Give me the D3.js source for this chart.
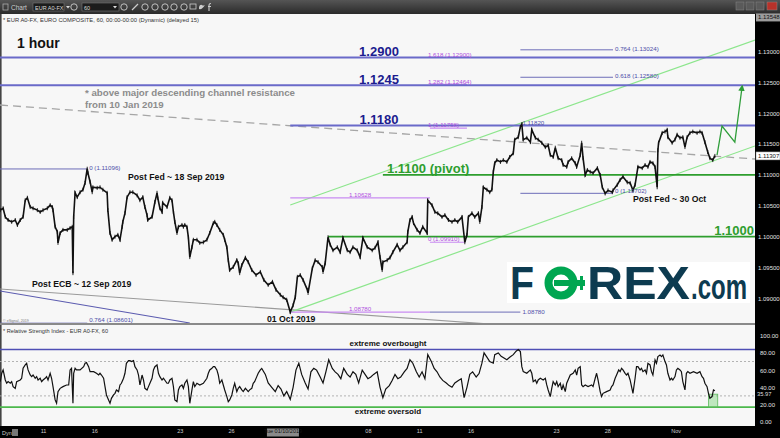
<!DOCTYPE html>
<html>
<head>
<meta charset="utf-8">
<script src="https://cdn.jsdelivr.net/npm/d3@7"></script>
<style>
  body { margin: 0; background: #fff; }
  svg { display: block; font-family: "Liberation Sans", Arial, sans-serif; }
</style>
</head>
<body>
<svg id="chart" width="780" height="438"></svg>
<script>
// ---------- data ----------
// time unit: trading hours from Mon 9 Sep 2019 00:00 (weekends skipped)
// EUR/USD hourly price track [hour, price]
const priceTrack = [
[-12,1.1043],[-8,1.1046],[-5,1.1032],[-1,1.1027],[4,1.1024],[9,1.1027],[12,1.1019],[16,1.1027],[20,1.1032],[23,1.1059],[26,1.1063],[30,1.1048],[34,1.1046],[40,1.1043],[44,1.1040],[48,1.1043],[54,1.1046],[58,1.1051],[61,1.1048],[62,1.1043],[65,1.1016],[68,1.1008],[69,1.0990],[72,1.1006],[76,1.1011],[82,1.1011],[86,1.1014],[89,1.1016],[90,1.0941],[91,1.1032],[93,1.1071],[96,1.1064],[100,1.1072],[104,1.1076],[107,1.1087],[110,1.1110],[111,1.1103],[114,1.1089],[117,1.1072],[118,1.1080],[124,1.1079],[128,1.1080],[132,1.1076],[138,1.1071],[139,1.1043],[142,1.1006],[145,1.0995],[149,1.1000],[153,1.1003],[156,1.0995],[159,1.1016],[160,1.1024],[163,1.1038],[166,1.1064],[170,1.1072],[174,1.1072],[180,1.1067],[184,1.1059],[188,1.1064],[191,1.1048],[194,1.1035],[195,1.1027],[201,1.1032],[205,1.1056],[208,1.1071],[209,1.1063],[212,1.1046],[215,1.1040],[216,1.1055],[222,1.1048],[226,1.1063],[229,1.1059],[231,1.1040],[233,1.1024],[236,1.1006],[238,1.1016],[243,1.1019],[245,1.1016],[247,1.1019],[250,1.1016],[252,1.0999],[254,1.0967],[257,1.0983],[259,1.0995],[264,1.0995],[268,1.0990],[273,1.0991],[278,1.0995],[282,1.1006],[287,1.1022],[289,1.1024],[292,1.1019],[296,1.1011],[301,1.1003],[303,1.0995],[306,1.0983],[308,1.0962],[310,1.0946],[315,1.0951],[320,1.0962],[322,1.0957],[324,1.0941],[327,1.0954],[332,1.0966],[336,1.0959],[341,1.0946],[347,1.0938],[353,1.0943],[358,1.0930],[364,1.0922],[370,1.0927],[375,1.0914],[381,1.0906],[385,1.0902],[390,1.0898],[395,1.0878],[399,1.0889],[402,1.0902],[405,1.0935],[409,1.0938],[413,1.0930],[419,1.0914],[420,1.0909],[426,1.0949],[430,1.0962],[434,1.0959],[440,1.0951],[441,1.0943],[444,1.0957],[448,1.0999],[451,1.0987],[455,1.0978],[461,1.0983],[465,1.0975],[469,1.0998],[475,1.0978],[479,1.0975],[483,1.0983],[489,1.0978],[493,1.0967],[497,1.0998],[503,1.0983],[510,1.0978],[514,1.0982],[518,1.0991],[521,1.0967],[524,1.0946],[525,1.0959],[531,1.0962],[535,1.0966],[539,1.0975],[545,1.0987],[549,1.0978],[553,1.0983],[559,1.0991],[560,1.1008],[563,1.1027],[566,1.1032],[568,1.1022],[573,1.1011],[577,1.1006],[581,1.1016],[587,1.1006],[588,1.1059],[594,1.1051],[598,1.1040],[602,1.1038],[608,1.1032],[612,1.1035],[617,1.1027],[622,1.1024],[626,1.1027],[630,1.1024],[636,1.1032],[640,1.0991],[643,1.1003],[645,1.1032],[650,1.1038],[654,1.1032],[659,1.1038],[661,1.1024],[664,1.1048],[666,1.1080],[671,1.1076],[675,1.1072],[678,1.1076],[680,1.1105],[682,1.1119],[685,1.1124],[690,1.1121],[694,1.1124],[699,1.1121],[703,1.1129],[708,1.1135],[710,1.1157],[715,1.1161],[718,1.1178],[720,1.1182],[722,1.1157],[727,1.1160],[732,1.1153],[734,1.1173],[739,1.1160],[743,1.1157],[748,1.1152],[753,1.1145],[757,1.1148],[760,1.1132],[764,1.1129],[767,1.1144],[771,1.1127],[776,1.1124],[778,1.1116],[783,1.1113],[785,1.1121],[790,1.1127],[795,1.1119],[797,1.1113],[802,1.1132],[804,1.1152],[806,1.1127],[809,1.1100],[812,1.1108],[816,1.1105],[820,1.1103],[826,1.1111],[830,1.1100],[833,1.1080],[837,1.1070],[841,1.1075],[847,1.1072],[848,1.1075],[854,1.1084],[858,1.1092],[862,1.1097],[868,1.1088],[872,1.1087],[876,1.1075],[879,1.1084],[883,1.1113],[889,1.1111],[893,1.1116],[897,1.1113],[900,1.1121],[904,1.1119],[907,1.1113],[910,1.1080],[911,1.1140],[912,1.1152],[917,1.1168],[921,1.1170],[924,1.1173],[925,1.1161],[931,1.1152],[935,1.1157],[938,1.1165],[942,1.1160],[946,1.1161],[949,1.1145],[952,1.1161],[956,1.1168],[960,1.1170],[966,1.1168],[970,1.1170],[973,1.1168],[977,1.1153],[981,1.1137],[984,1.1127],[988,1.1124],[991,1.11307]
];

// RSI(14) track [hour, value]
const rsiTrack = [
[-12,46.6],[-10,56.3],[-8,60.2],[-5,48.5],[-3,44.7],[-1,46.6],[2,44.7],[4,46.6],[6,40.8],[9,38.8],[11,46.6],[16,48.5],[18,50.5],[20,62.1],[23,66.0],[25,67.9],[27,60.2],[30,54.3],[32,52.4],[34,54.3],[37,50.5],[39,52.4],[41,48.5],[44,50.5],[46,46.6],[48,48.5],[51,50.5],[53,52.4],[55,48.5],[58,56.3],[60,50.5],[62,40.8],[65,25.3],[67,21.4],[69,35.0],[72,38.8],[76,40.8],[81,42.7],[84,42.7],[86,60.2],[88,62.1],[90,21.4],[91,56.3],[93,62.1],[95,60.2],[100,60.2],[105,64.0],[107,67.9],[109,68.7],[112,64.0],[114,58.2],[119,58.2],[123,56.3],[126,54.3],[128,56.3],[130,54.3],[133,50.5],[135,40.8],[137,31.1],[140,25.3],[142,21.4],[144,27.2],[147,31.1],[149,33.0],[151,36.9],[154,35.0],[156,42.7],[158,44.7],[161,50.5],[163,56.3],[165,67.9],[168,71.0],[170,71.0],[172,69.9],[175,71.0],[177,64.0],[180,60.2],[182,54.3],[184,42.7],[187,54.3],[189,48.5],[191,38.8],[194,36.9],[196,40.8],[198,44.7],[201,50.5],[203,60.2],[205,64.0],[208,66.0],[210,56.3],[212,52.4],[215,48.5],[217,50.5],[222,44.7],[224,44.7],[226,48.5],[229,50.5],[231,40.8],[233,25.3],[236,23.3],[238,36.9],[240,40.8],[243,42.7],[245,38.8],[247,44.7],[250,48.5],[252,40.8],[254,21.4],[257,36.9],[259,46.6],[261,40.8],[264,44.7],[268,42.7],[273,44.7],[278,50.5],[280,56.3],[282,60.2],[285,62.1],[287,64.0],[289,64.0],[292,60.2],[294,54.3],[296,44.7],[299,48.5],[301,42.7],[303,36.9],[306,29.2],[308,23.3],[310,25.3],[313,31.1],[315,38.8],[317,44.7],[320,35.0],[322,38.8],[324,40.8],[327,37.0],[329,35.0],[332,38.8],[334,37.0],[336,35.0],[338,37.0],[341,38.8],[343,44.7],[345,46.6],[348,52.4],[350,56.3],[353,60.2],
[355,62],[360,55],[364,45],[369,40],[374,35],[378,42],[382,38],[386,30],[390,35],[395,26],[399,40],[403,60],[407,68],[411,55],[416,45],[420,38],[424,58],[428,62],[432,60],[437,52],[441,45],[445,58],[449,72],[454,62],[458,58],[462,55],[466,50],[470,62],[475,55],[479,52],[483,58],[487,55],[491,45],[496,60],[500,55],[504,50],[508,52],[512,55],[517,58],[521,40],[525,28],[529,38],[534,42],[538,48],[542,55],[546,50],[550,52],[555,58],[559,62],[563,72],[567,68],[572,58],[576,52],[580,58],[584,50],[588,78],[593,70],[597,62],[601,58],[605,52],[609,48],[614,45],[618,42],[622,40],[626,45],[631,48],[635,50],[639,28],[643,40],[647,55],[651,58],[656,52],[660,56],[664,68],[667,80],[671,75],[675,70],[680,68],[682,78],[687,80],[691,76],[695,74],[699,72],[703,75],[708,78],[712,82],[715,84],[718,81.5],
[720,64.0],[722,58.2],[727,56.3],[732,60.2],[734,56.3],[736,46.6],[739,48.5],[741,44.7],[743,48.5],[746,50.5],[750,48.5],[753,50.5],[755,42.7],[757,36.9],[760,29.2],[762,38.8],[764,46.6],[767,42.7],[769,46.6],[771,40.8],[774,44.7],[776,36.9],[778,42.7],[781,35.0],[783,44.7],[788,54.3],[792,56.3],[795,60.2],[797,54.3],[799,62.1],[802,64.0],[804,42.7],[806,40.8],[809,42.7],[813,40.8],[818,42.7],[820,40.8],[823,50.5],[825,56.3],[827,48.5],[830,35.0],[832,29.2],[834,33.0],[839,35.0],[844,36.9],[846,40.8],[848,42.7],[851,50.5],[853,54.3],[856,60.2],[858,58.2],[860,62.1],[862,60.2],[865,56.3],[867,54.3],[869,56.3],[872,48.5],[874,40.8],[876,33.0],[879,50.5],[881,64.0],[883,64.0],[886,60.2],[888,62.1],[890,58.2],[893,60.2],[895,56.3],[897,67.9],[900,66.0],[902,58.2],[904,54.3],[907,71.8],[909,67.9],[911,75.7],[914,77.6],[916,75.7],[918,77.6],[921,69.9],[923,66.0],[925,56.3],[928,48.5],[930,50.5],[932,48.5],[935,52.4],[937,60.2],[939,62.1],[942,60.2],[944,58.2],[946,46.6],[949,37.0],[951,56.3],[953,58.2],[956,56.3],[961,58.2],[966,56.3],[970,58.2],[973,52.4],[975,50.5],[977,44.7],[980,40.8],[982,33.0],[984,27.2],[987,29.2],[989,37.0],[991,35.97]
];

// expected path after the last bar
const projection = [[994,1.1132],[1001,1.1179],[1019,1.1153],[1029,1.1241]];

// key horizontal levels
const resistLevels = [1.1290, 1.1245, 1.1180];
const resistLabels = ["1.2900", "1.1245", "1.1180"];
const resistFrom   = [-12.4, -12.4, 395];
const supportLevels = [1.1100, 1.1000];
const supportLabels = ["1.1100 (pivot)", "1.1000"];
const supportFrom   = [525, 448];

// trend / channel lines: [hour0, price0, hour1, price1]
const descUpper  = [-12.4, 1.12131, 1047.3, 1.11257];
const descLower  = [-12.4, 1.09154, 1047.3, 1.08280];
const fibDiag    = [-12.4, 1.09122, 254, 1.08604];
const ascLower   = [395, 1.0878, 1047.3, 1.11468];
const ascUpper   = [395, 1.10513, 1047.3, 1.13183];

// Fibonacci levels (blue tool): price, from, to, label
const fibBlue = [
  [1.11096, -12.4, 110, "0 (1.11096)"],
  [1.08601, -12.4, 110, "0.764 (1.08601)"],
  [1.13024, 718, 848, "0.764 (1.13024)"],
  [1.12580, 718, 848, "0.618 (1.12580)"],
  [1.10702, 718, 848, "0 (1.10702)"],
  [1.08780, 591, 718, "1.08780"],
  [1.11820, 718, 718, "1.11820"]
];
// Fibonacci extension (violet tool)
const fibViolet = [
  [1.12900, 591, 643, "1.618 (1.12900)"],
  [1.12464, 591, 643, "1.282 (1.12464)"],
  [1.11758, 591, 643, "1 (1.11758)"],
  [1.10628, 395, 591, "1.10628"],
  [1.09910, 591, 640, "0 (1.09910)"],
  [1.08780, 395, 591, "1.08780"]
];

// RSI reference levels
const rsiOverbought = 84, rsiOversold = 17, rsiGuides = [70, 30];
const rsiSignalBox = [982, 995, 17, 32];

// axis ticks
const priceTicks = [1.09, 1.095, 1.10, 1.105, 1.11, 1.115, 1.12, 1.125, 1.13];
const rsiTicks = [0, 20, 40, 60, 80, 100];
const dayTicks = [2, 5, 10, 13, 16, 21, 24, 27, 32, 35, 39];
const dayTickLabels = ["11","16","23","26","Tue 01/10/2019","08","11","16","23","28","Nov"];
const lastPrice = 1.11307, lastRsi = 35.97, axisTop = 1.13548;

// ---------- layout ----------
const FONT = '"Liberation Sans", Arial, sans-serif';
const plotR = 755;
const svg = d3.select("#chart");

const x = d3.scaleLinear().domain([-12.4, 1047.3]).range([0, plotR]);
const y = d3.scaleLinear().domain([1.10, 1.13]).range([236.7, 51.3]);
const yr = d3.scaleLinear().domain([0, 100]).range([421.7, 335.7]);

const defs = svg.append("defs");
const grad = defs.append("linearGradient").attr("id","tb").attr("x1",0).attr("x2",0).attr("y1",0).attr("y2",1);
grad.append("stop").attr("offset","0%").attr("stop-color","#555");
grad.append("stop").attr("offset","100%").attr("stop-color","#2a2a2a");
defs.append("clipPath").attr("id","clipP").append("rect").attr("x",0).attr("y",15).attr("width",plotR).attr("height",308);
defs.append("clipPath").attr("id","clipR").append("rect").attr("x",0).attr("y",326).attr("width",plotR).attr("height",100);
defs.append("marker").attr("id","arr").attr("viewBox","0 0 10 10").attr("refX",5).attr("refY",5)
  .attr("markerWidth",5).attr("markerHeight",5).attr("orient","auto")
  .append("path").attr("d","M0,0L10,5L0,10z").attr("fill","#2f9e3a");

// background
svg.append("rect").attr("width",780).attr("height",438).attr("fill","#f7f7f7");

// toolbar
svg.append("rect").attr("width",780).attr("height",14).attr("fill","url(#tb)");
svg.append("rect").attr("x",3).attr("y",4).attr("width",5).attr("height",6).attr("fill","none").attr("stroke","#aaa").attr("stroke-width",0.8);
svg.append("text").attr("x",11).attr("y",10).attr("font-size",6.5).attr("fill","#ccc").attr("font-family",FONT).text("Chart");
svg.append("rect").attr("x",33).attr("y",3).attr("width",31).attr("height",8).attr("fill","#1c1c1c").attr("stroke","#777").attr("stroke-width",0.6);
svg.append("text").attr("x",35).attr("y",9.5).attr("font-size",5.5).attr("fill","#ddd").attr("font-family",FONT).text("EUR A0-FX");
svg.append("path").attr("d","M66,6 L70,6 L68,8.5z").attr("fill","#ddd");
svg.append("rect").attr("x",82).attr("y",3).attr("width",37).attr("height",8).attr("fill","#1c1c1c").attr("stroke","#777").attr("stroke-width",0.6);
svg.append("text").attr("x",84).attr("y",9.5).attr("font-size",5.5).attr("fill","#ddd").attr("font-family",FONT).text("60");
svg.append("path").attr("d","M113,6 L117,6 L115,8.5z").attr("fill","#ddd");
[74,124,145,155,165,174,184].forEach(cx => {
  svg.append("circle").attr("cx",cx).attr("cy",7).attr("r",3.2).attr("fill","none").attr("stroke","#ccc").attr("stroke-width",0.9);
});
svg.append("path").attr("d","M132,10 L138,4").attr("stroke","#ccc").attr("stroke-width",1.2);
svg.append("rect").attr("x",190).attr("y",4).attr("width",6).attr("height",5).attr("fill","none").attr("stroke","#ccc").attr("stroke-width",0.8);
svg.append("path").attr("d","M199,9 q3,1 6,-4 q-2,1 -3,0 q-2,-1 -3,2z").attr("fill","#ccc");
svg.append("path").attr("d","M209,11 L209,5 Q209,3.5 211,3.5 M208,6.5 L211,6.5").attr("fill","none").attr("stroke","#ccc").attr("stroke-width",1.1);
[736,746,756].forEach(bx => svg.append("rect").attr("x",bx).attr("y",2).attr("width",8).attr("height",8).attr("fill","#5a5a5a").attr("stroke","#888").attr("stroke-width",0.5));
svg.append("rect").attr("x",767).attr("y",2).attr("width",10).attr("height",8).attr("fill","#b8322a").attr("stroke","#888").attr("stroke-width",0.5);

// left frame
svg.append("rect").attr("x",0).attr("y",14).attr("width",1.6).attr("height",412).attr("fill","#444");

// ---------- price panel ----------
svg.append("text").attr("x",3).attr("y",21.5).attr("font-size",5.8).attr("fill","#333").attr("font-family",FONT)
  .text("* EUR A0-FX, EURO COMPOSITE, 60, 00:00-00:00 (Dynamic) (delayed 15)");
svg.append("text").attr("x",3).attr("y",321.5).attr("font-size",3.6).attr("fill","#777").attr("font-family",FONT).text("© eSignal, 2019");

const pg = svg.append("g").attr("clip-path","url(#clipP)");
const seg = (a, color, w, dash) => pg.append("line")
  .attr("x1",x(a[0])).attr("y1",y(a[1])).attr("x2",x(a[2])).attr("y2",y(a[3]))
  .attr("stroke",color).attr("stroke-width",w).attr("stroke-dasharray",dash || null);

// descending channel
seg(descUpper, "#a6a6a6", 1.3, "8,5");
seg(descLower, "#9a9a9a", 1.1);
seg(fibDiag, "#5c5cb0", 1.1);
// ascending channel
seg(ascLower, "#8de68d", 1.2);
seg(ascUpper, "#8de68d", 1.2);

// fibonacci lines
fibViolet.forEach(f => {
  if (f[2] > f[1]) pg.append("line").attr("x1",x(f[1])).attr("x2",x(f[2])).attr("y1",y(f[0])).attr("y2",y(f[0]))
    .attr("stroke","#c98cf2").attr("stroke-width",1.2);
});
fibBlue.forEach(f => {
  if (f[2] > f[1]) pg.append("line").attr("x1",x(f[1])).attr("x2",x(f[2])).attr("y1",y(f[0])).attr("y2",y(f[0]))
    .attr("stroke","#6d6db8").attr("stroke-width",1);
});

// key levels
resistLevels.forEach((p, i) => {
  pg.append("line").attr("x1",x(resistFrom[i])).attr("x2",plotR).attr("y1",y(p)).attr("y2",y(p))
    .attr("stroke","#6a6ac9").attr("stroke-width",2);
});
supportLevels.forEach((p, i) => {
  pg.append("line").attr("x1",x(supportFrom[i])).attr("x2",plotR).attr("y1",y(p)).attr("y2",y(p))
    .attr("stroke","#2e9e2e").attr("stroke-width",1.8);
});

// price: hourly track with small bar wicks
const line = d3.line().x(d => x(d[0])).y(d => y(d[1])).curve(d3.curveLinear);
pg.append("path").datum(priceTrack).attr("d",line).attr("fill","none")
  .attr("stroke","#111").attr("stroke-width",1.6).attr("stroke-linejoin","miter");
pg.append("g").selectAll("line").data(priceTrack).join("line")
  .attr("x1",d => x(d[0])).attr("x2",d => x(d[0]))
  .attr("y1",d => y(d[1]) - 2).attr("y2",d => y(d[1]) + 2)
  .attr("stroke","#111").attr("stroke-width",0.9);

// projected path
pg.append("path").datum(projection).attr("d",line).attr("fill","none")
  .attr("stroke","#2f9e3a").attr("stroke-width",1.3).attr("marker-end","url(#arr)");

// fib labels
fibViolet.forEach(f => {
  const seglen = x(f[2]) - x(f[1]);
  const mid = seglen > 80;
  pg.append("text").attr("x", mid ? (x(f[1]) + x(f[2])) / 2 : x(f[1]) - 2).attr("y", y(f[0]) - 0.8)
    .attr("text-anchor", mid ? "middle" : "start")
    .attr("font-size",6.2).attr("fill","#b04ee0").attr("font-family",FONT).text(f[3]);
});
fibBlue.forEach(f => {
  let dy = 0.8;
  if (f[0] < 1.087) dy = -1.5;
  else if (f[0] < 1.09) dy = 1.6;
  else if (f[0] < 1.108) dy = -0.6;
  pg.append("text").attr("x", x(f[2]) + 2).attr("y", y(f[0]) + dy)
    .attr("font-size",6.2).attr("fill","#4d4da8").attr("font-family",FONT).text(f[3]);
});

// level labels
resistLevels.forEach((p, i) => {
  pg.append("text").attr("x",379).attr("y",y(p) - 1).attr("text-anchor","middle")
    .attr("font-size",13).attr("font-weight","bold").attr("fill","#1c1c8f").attr("font-family",FONT).text(resistLabels[i]);
});
pg.append("text").attr("x",387).attr("y",y(supportLevels[0]) - 2).attr("font-size",13).attr("font-weight","bold")
  .attr("fill","#2e9e2e").attr("font-family",FONT).text(supportLabels[0]);
pg.append("text").attr("x",754).attr("y",y(supportLevels[1]) - 2).attr("text-anchor","end").attr("font-size",13).attr("font-weight","bold")
  .attr("fill","#2e9e2e").attr("font-family",FONT).text(supportLabels[1]);

// annotations
const note = (tx, ty, s, size, color) => svg.append("text").attr("x",tx).attr("y",ty)
  .attr("font-size",size).attr("font-weight","bold").attr("fill",color).attr("font-family",FONT).text(s);
note(17, 48, "1 hour", 14, "#111");
note(85, 96, "*  above major descending channel resistance", 9.7, "#8c8c8c");
note(85, 108, "from 10 Jan 2019", 9.7, "#8c8c8c");
note(128, 180, "Post Fed ~ 18 Sep 2019", 8.7, "#111");
note(32, 287, "Post ECB ~ 12 Sep 2019", 8.7, "#111");
note(267, 322, "01 Oct 2019", 8.7, "#111");
note(633, 201.5, "Post Fed ~ 30 Oct", 8.7, "#111");

// FOREX.com logo
const logo = svg.append("g");
logo.append("rect").attr("x",507).attr("y",262).attr("width",243).attr("height",41).attr("fill","#fff");
logo.append("text").attr("x",510).attr("y",298.5).attr("font-size",42).attr("font-weight","bold").attr("fill","#0d3b50")
  .attr("font-family",FONT).attr("textLength",24).attr("lengthAdjust","spacingAndGlyphs")
  .attr("transform","translate(0,-28.6) scale(1,1.096)").text("F");
logo.append("circle").attr("cx",561).attr("cy",283).attr("r",12.5).attr("fill","none").attr("stroke","#00a651").attr("stroke-width",8);
logo.append("rect").attr("x",554).attr("y",280).attr("width",31).attr("height",6).attr("fill","#00a651");
logo.append("rect").attr("x",580).attr("y",276).attr("width",3).attr("height",14).attr("fill","#00a651");
logo.append("text").attr("x",587).attr("y",298.5).attr("font-size",42).attr("font-weight","bold").attr("fill","#0d3b50")
  .attr("font-family",FONT).attr("textLength",103).attr("lengthAdjust","spacingAndGlyphs")
  .attr("transform","translate(0,-28.6) scale(1,1.096)").text("REX");
logo.append("text").attr("x",0).attr("y",0).attr("font-size",24).attr("font-weight","bold").attr("fill","#0d3b50")
  .attr("font-family",FONT).attr("transform","translate(691,298.5) scale(1,1.45)").text(".com");

// panel separator
svg.append("rect").attr("x",0).attr("y",323).attr("width",plotR).attr("height",2).attr("fill","#8a8a8a");

// ---------- RSI panel ----------
svg.append("text").attr("x",3).attr("y",333).attr("font-size",5.6).attr("fill","#333").attr("font-family",FONT)
  .text("* Relative Strength Index - EUR A0-FX, 60");
const rg = svg.append("g").attr("clip-path","url(#clipR)");
rsiGuides.forEach(v => rg.append("line").attr("x1",0).attr("x2",plotR).attr("y1",yr(v)).attr("y2",yr(v))
  .attr("stroke","#aaa").attr("stroke-width",0.9).attr("stroke-dasharray","2,2"));
rg.append("line").attr("x1",0).attr("x2",plotR).attr("y1",yr(rsiOverbought)).attr("y2",yr(rsiOverbought))
  .attr("stroke","#4f4fb5").attr("stroke-width",1.6);
rg.append("line").attr("x1",0).attr("x2",plotR).attr("y1",yr(rsiOversold)).attr("y2",yr(rsiOversold))
  .attr("stroke","#4cb84c").attr("stroke-width",1.6);
rg.append("rect").attr("x",x(rsiSignalBox[0])).attr("y",yr(rsiSignalBox[3]))
  .attr("width",x(rsiSignalBox[1]) - x(rsiSignalBox[0])).attr("height",yr(rsiSignalBox[2]) - yr(rsiSignalBox[3]))
  .attr("fill","rgba(120,210,120,0.45)").attr("stroke","#5cb85c").attr("stroke-width",0.8);
const rline = d3.line().x(d => x(d[0])).y(d => yr(d[1]));
rg.append("path").datum(rsiTrack).attr("d",rline).attr("fill","none").attr("stroke","#111").attr("stroke-width",1.2);
svg.append("text").attr("x",388).attr("y",346).attr("text-anchor","middle").attr("font-size",8).attr("font-weight","bold")
  .attr("fill","#111").attr("font-family",FONT).text("extreme overbought");
svg.append("text").attr("x",388).attr("y",414).attr("text-anchor","middle").attr("font-size",8).attr("font-weight","bold")
  .attr("fill","#111").attr("font-family",FONT).text("extreme oversold");

// ---------- axes strips ----------
svg.append("rect").attr("x",plotR).attr("y",14).attr("width",780 - plotR).attr("height",424).attr("fill","#000");
svg.append("rect").attr("x",0).attr("y",426).attr("width",780).attr("height",12).attr("fill","#000");

const styleAxis = g => {
  g.select(".domain").remove();
  g.attr("font-family",FONT).attr("font-size",6).attr("color","#e2e2e2");
};
svg.append("g").attr("transform",`translate(${plotR + 1},0)`)
  .call(d3.axisRight(y).tickValues(priceTicks).tickFormat(d3.format(".5f")).tickSize(0).tickPadding(2))
  .call(styleAxis);
svg.append("g").attr("transform",`translate(${plotR + 1},0)`)
  .call(d3.axisRight(yr).tickValues(rsiTicks).tickFormat(d3.format(".2f")).tickSize(0).tickPadding(4))
  .call(styleAxis);

// axis flags
svg.append("rect").attr("x",plotR + 1).attr("y",y(axisTop) - 4).attr("width",24).attr("height",8).attr("fill","#9c9c9c");
svg.append("text").attr("x",plotR + 3).attr("y",y(axisTop) + 2).attr("font-size",6).attr("fill","#111").attr("font-family",FONT).text(d3.format(".5f")(axisTop));
svg.append("rect").attr("x",plotR + 1).attr("y",y(lastPrice) - 4).attr("width",24).attr("height",8).attr("fill","#fff").attr("stroke","#888").attr("stroke-width",0.5);
svg.append("text").attr("x",plotR + 3).attr("y",y(lastPrice) + 2).attr("font-size",6).attr("fill","#111").attr("font-family",FONT).text(d3.format(".5f")(lastPrice));
svg.append("text").attr("x",plotR + 2).attr("y",yr(lastRsi) + 5).attr("font-size",5.8).attr("fill","#ddd").attr("font-family",FONT).text(d3.format(".2f")(lastRsi));

// time axis
const gx = svg.append("g").attr("transform","translate(0,428)")
  .call(d3.axisBottom(x).tickValues(dayTicks.map(d => d * 24)).tickFormat((d, i) => dayTickLabels[i]).tickSize(0).tickPadding(1))
  .call(styleAxis);
gx.attr("color","#cfcfcf").attr("font-size",5.5);
gx.selectAll(".tick").filter((d, i) => dayTickLabels[i].length > 5).each(function () {
  const t = d3.select(this);
  t.insert("rect","text").attr("x",-16).attr("y",0.5).attr("width",32).attr("height",8).attr("fill","#8a8a8a");
  t.select("text").attr("fill","#111");
});
svg.append("text").attr("x",2).attr("y",435).attr("font-size",5.5).attr("fill","#ccc").attr("font-family",FONT).text("Dyn");
svg.append("rect").attr("x",12).attr("y",429).attr("width",6).attr("height",7).attr("fill","#777");
</script>
</body>
</html>
